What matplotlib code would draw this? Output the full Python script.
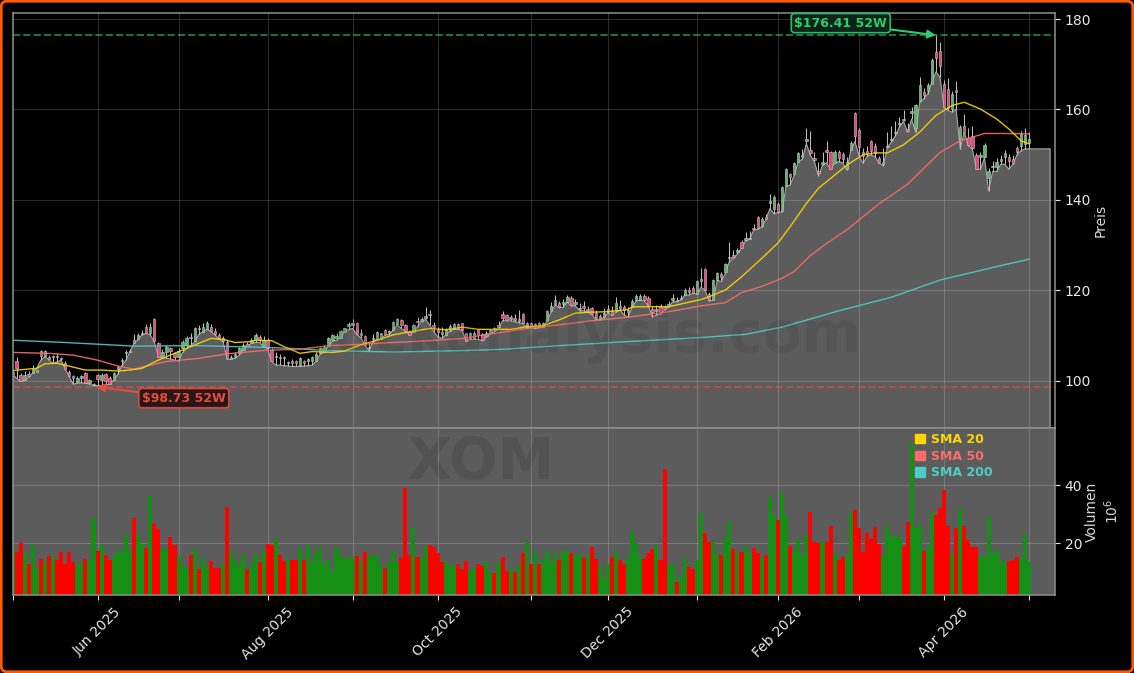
import matplotlib
matplotlib.use("Agg")
import matplotlib.pyplot as plt
from matplotlib.patches import FancyBboxPatch, Patch

W, H = 1134, 673

volumes = [18.5,16.8,19.9,16.8,12.6,19.3,11.4,14.5,13.7,15.6,15.3,14.2,17,12.6,17,13.4,12.5,13.3,14.5,14,
           28.6,17.4,19.3,16,14.2,15.6,17.2,17.4,22.9,17.6,28.6,23.1,19.7,18.2,36.2,26.8,25,18,18.3,22.2,
           19.4,15.6,12.2,11.7,15.7,18,11,14.9,11.9,13.7,11.4,11.4,13,32.5,17.4,14.2,12.5,15.9,10.9,12.5,
           15.9,13.4,17.4,19.7,19.4,21.5,15.7,13.7,14.6,14,14.3,18.2,14,19.4,13.4,16.5,19.1,12.6,14,10.1,
           18.4,15.9,14.4,15.1,15.3,15.4,13.3,17,15.7,15.1,15.9,12,11.3,13.4,17.4,13.6,14.9,39.1,16,25.5,
           15.1,15.3,18.8,19.4,18.5,16.7,13.3,13.3,12.2,12.2,12.6,11.2,13.8,10.5,11.4,12.6,12,13.6,10,9.6,
           13.2,15.3,10.3,11.2,10,12.7,16.5,20.5,12.6,17,12.6,14.2,17.4,13.4,16.5,14,17.4,17.4,16.5,15.9,
           15.9,14.9,15.9,18.5,14.6,12,7.6,12.8,15.1,16.9,14,12.8,14.9,23.9,20,15.1,14.6,16.7,17.8,18.8,
           14,45.5,12.1,12.6,6.4,8.5,14.9,11.7,10.9,14,30.4,23.6,20.4,20.2,16.2,15.7,21.7,27.7,17.8,16.8,
           16.8,18.9,16.7,18.2,16.4,14.9,16,35.9,29.7,28,37.7,29.7,18.8,17.4,21.4,16,23.1,30.8,20.4,20.1,
           20.2,20.2,26,16.2,14.3,15.3,16,30.3,31.4,25.2,16.9,23.3,21.4,25.6,19.7,15.6,26.2,22.5,22.8,22,
           19.1,27.4,54.1,25.2,26.2,17.3,18.7,30.4,29.8,32.1,38.2,25.7,16.5,25.2,31.6,26,21,18.7,18.7,15.6,
           15.3,29.1,16.5,17.6,13.9,13.5,13.9,14.1,15.3,14.8,23.1,13.4]

directions = ("GRRGRGGRGR" "GRRRRRGGRG" "GRGRRGGGGG" "RGGRGRRGGR" "RGGGRGRGGR"
              "RRGRGGGGRG" "GRGRRGRRGR" "RGRGGGGGGG" "GGGGGRGRGG" "GGRGGGRRRG"
              "RGGRRRRGGG" "RRRGGRRGGR" "GRRGRGRGRG" "RGGGGRGGRG" "GRGRRGGGRG"
              "RRGGGGRRRG" "RRGGRGGRRG" "GRRGGRGGRG" "RGGRRGRGGR" "GGRGGGGRRR"
              "GRRGRRGGRR" "RRRRRGGGGG" "RRGGGRGGRR" "RRGRGRRRRG" "GGGGGGRRRGGG")

body_top = [101.9,104.3,101.3,101.3,101.6,102.6,102.5,106.6,106.6,105.2,105.6,105.5,105.0,103.9,101.9,101.0,100.7,101.0,101.7,100.2,
            99.3,101.3,101.4,101.5,100.6,101.7,103.0,104.6,106.4,106.6,109.0,110.2,110.6,111.9,111.9,113.8,108.3,106.5,107.6,107.2,
            106.1,106.7,108.5,109.6,109.8,111.6,111.8,112.0,112.7,112.0,111.1,110.2,109.4,108.7,105.2,105.9,107.2,108.0,108.2,109.0,
            110.2,109.7,109.0,109.0,106.8,105.6,105.3,105.2,104.2,104.4,104.3,105.0,104.3,104.8,105.4,106.0,107.2,107.6,109.6,110.2,
            109.9,111.0,111.6,112.5,112.8,112.7,110.5,109.9,107.6,109.6,110.8,110.5,111.3,111.0,113.1,113.6,113.5,112.4,110.9,112.4,
            113.3,113.6,114.4,114.9,112.4,111.2,110.9,111.5,112.2,112.6,112.6,112.7,110.5,110.5,110.6,111.3,110.3,110.7,111.2,111.6,
            112.4,114.9,114.6,114.2,114.0,113.6,114.7,112.7,112.7,112.5,112.7,112.7,115.5,116.6,118.0,117.3,117.5,118.5,118.3,117.5,
            116.2,116.6,115.8,116.1,115.0,114.4,115.1,115.8,115.7,117.2,116.6,116.4,115.7,117.7,118.8,118.8,118.8,118.3,115.9,116.0,
            116.6,116.4,117.0,118.4,118.0,118.4,120.0,120.1,120.5,122.0,122.5,124.7,119.2,122.3,123.8,123.6,125.8,127.5,127.9,129.0,
            130.8,131.5,131.7,133.8,136.2,135.9,136.2,139.7,140.6,139.1,142.8,146.8,145.7,148.2,150.3,150.0,153.5,151.0,149.2,146.5,
            148.4,151.0,150.5,150.7,150.5,150.2,148.5,152.5,159.3,155.5,150.5,150.9,153.0,151.9,149.3,148.5,152.0,153.5,155.0,157.0,
            158.0,155.6,159.6,161.0,165.5,163.8,165.5,171.0,172.6,172.9,165.7,164.6,163.5,164.2,156.2,156.4,153.7,154.2,150.0,150.0,
            152.2,146.5,147.5,148.5,149.0,150.3,149.4,149.0,151.4,154.6,154.4,153.5]

body_bot = [101.5,102.8,99.9,100.2,101.0,101.8,101.9,105.6,105.5,104.8,105.4,105.3,104.8,102.7,101.1,100.6,99.8,100.7,99.6,99.6,
            99.0,100.5,100.2,99.9,99.3,100.3,102.6,104.3,106.1,106.3,108.4,109.2,110.3,110.6,110.7,108.9,105.4,105.4,106.3,106.6,
            105.2,105.2,107.2,108.0,109.4,108.9,111.5,110.9,111.4,111.0,110.4,109.3,108.9,105.0,104.9,105.2,106.1,106.9,107.7,108.3,
            109.0,109.0,107.7,107.2,104.3,105.2,105.0,105.0,103.9,104.0,104.0,103.4,104.0,104.5,104.3,104.5,106.1,106.5,107.7,109.0,
            109.6,109.6,110.9,112.2,112.4,110.3,110.2,108.0,107.2,109.2,109.2,109.2,110.4,110.6,111.3,112.6,112.3,111.1,110.2,110.9,
            113.0,113.3,114.0,114.5,111.9,110.9,110.4,110.2,111.1,111.5,111.5,111.3,108.9,109.6,109.6,110.2,109.1,110.0,110.5,111.2,
            112.0,114.0,113.5,113.6,113.5,113.2,112.9,111.9,111.9,111.6,112.0,112.0,113.3,115.5,117.0,116.3,117.0,117.5,116.8,117.0,
            115.8,116.2,115.4,114.9,114.0,113.8,114.2,115.3,114.6,115.5,116.2,115.6,115.2,116.4,117.9,118.0,117.9,116.8,115.2,115.4,
            115.2,115.9,116.6,118.0,117.7,118.1,119.0,119.6,119.5,119.2,122.1,120.1,117.8,118.0,122.3,123.0,124.0,127.1,127.5,128.5,
            129.4,131.2,131.4,133.5,133.8,134.3,135.8,139.4,137.9,137.4,137.6,143.1,145.1,145.7,148.5,149.5,153.0,150.4,148.8,146.0,
            148.0,150.6,146.8,148.2,149.2,149.1,146.8,151.0,154.2,151.8,149.8,150.2,150.9,150.3,148.2,148.0,151.7,153.2,154.7,156.7,
            157.7,155.2,159.2,156.0,161.8,163.1,164.1,165.7,171.4,169.6,160.5,160.4,160.1,163.9,153.5,154.7,152.2,151.5,146.9,149.6,
            149.4,144.8,147.2,147.4,148.7,149.6,148.7,148.1,150.5,151.9,152.4,152.5]

highs = [102.2,105.4,101.8,102.3,102.2,103.6,103.4,106.9,106.9,105.7,105.7,106.2,105.3,104.3,102.5,101.3,101.0,101.4,102.0,100.4,
         99.5,101.6,101.7,101.8,101.0,102.0,103.4,105.0,106.8,107.1,110.3,110.7,111.2,112.6,112.7,113.9,108.6,107.1,108.0,107.6,
         106.5,107.2,109.0,110.0,110.7,112.0,112.3,112.7,113.2,112.6,111.6,110.7,110.0,109.0,105.7,106.4,107.6,108.4,108.7,109.4,
         110.6,110.1,110.0,109.4,107.2,106.3,105.9,105.5,104.3,104.8,104.6,105.4,104.6,105.1,105.6,106.3,107.4,107.9,109.8,110.4,
         110.5,111.3,111.8,113.1,113.6,113.0,111.4,110.2,108.6,110.4,111.0,110.7,111.5,111.3,113.3,113.9,113.7,112.6,111.2,112.6,
         114.2,114.2,116.4,115.6,113.0,112.0,112.0,111.8,112.5,112.9,112.9,112.9,110.7,110.8,111.0,111.5,110.6,111.0,111.5,112.0,
         113.3,115.5,114.8,114.6,114.7,115.6,115.0,113.0,113.0,112.9,113.0,113.0,115.7,117.4,118.9,117.7,118.2,118.9,118.7,118.2,
         117.2,117.7,116.6,116.4,115.7,114.7,116.2,116.8,116.5,118.5,118.0,116.7,116.4,118.2,119.2,119.2,119.2,118.8,116.6,116.8,
         116.9,116.8,117.6,119.2,118.6,118.9,120.6,120.7,120.9,122.4,124.9,125.0,119.6,122.6,124.0,124.0,126.0,130.8,129.0,129.3,
         131.2,133.0,133.2,134.8,136.5,136.2,137.0,141.4,141.0,139.5,143.0,147.0,146.0,148.5,150.6,151.3,155.8,155.3,150.7,148.5,
         150.7,153.0,150.8,151.0,151.0,150.6,149.5,153.0,159.5,155.9,151.5,152.0,153.3,152.5,149.8,151.6,155.0,156.4,157.4,158.4,
         159.8,157.0,160.5,161.2,167.2,164.8,165.9,171.4,176.41,175.0,166.5,166.9,164.0,166.4,156.6,159.0,156.0,156.4,150.3,150.7,
         152.6,147.0,148.7,149.3,149.9,151.0,150.1,150.0,151.9,155.2,155.8,155.0]

lows = [101.5,100.6,99.9,100.2,100.8,101.8,102.8,104.6,105.4,104.6,103.9,104.2,104.6,102.7,101.0,99.3,99.5,99.6,99.5,99.3,
        98.9,99.0,99.0,99.1,99.3,100.2,101.5,103.4,104.6,106.5,108.3,109.2,110.2,110.5,110.2,108.7,105.4,105.2,105.0,104.9,
        104.6,104.4,106.3,107.2,107.8,108.7,110.3,110.9,111.4,110.9,110.2,109.2,108.7,104.8,104.8,105.0,105.7,107.0,107.7,108.3,
        108.5,108.5,107.6,107.1,104.3,103.5,103.5,103.4,103.3,103.2,103.2,103.3,103.3,103.4,103.5,104.4,106.0,106.5,107.7,108.8,
        109.0,109.6,110.9,111.4,111.6,110.3,109.6,108.0,106.7,108.7,109.2,109.2,110.2,110.2,111.3,112.4,111.6,111.1,110.2,110.9,
        112.0,113.1,113.6,112.4,110.9,109.8,109.4,110.2,111.1,111.4,111.4,111.3,108.9,109.2,109.2,109.2,108.9,109.8,110.3,110.9,
        111.6,113.3,113.3,113.3,113.1,112.9,112.7,111.8,111.8,111.6,111.8,112.0,113.3,115.3,116.8,116.2,116.3,117.4,116.6,116.6,
        115.5,115.5,115.2,114.8,113.6,113.5,114.0,115.0,114.6,115.2,115.7,114.6,114.1,116.3,117.7,117.9,117.7,116.6,114.2,114.6,
        114.8,115.7,116.4,117.5,117.5,117.9,119.0,119.0,119.4,119.2,120.7,120.1,117.7,117.9,122.2,122.0,123.8,126.4,127.1,128.1,
        129.3,131.0,131.3,133.4,133.5,134.1,135.7,138.1,137.0,137.2,137.4,143.1,143.3,145.5,148.5,149.0,152.5,149.9,148.5,145.3,
        147.7,148.2,146.8,148.2,148.5,148.2,146.6,151.0,152.9,149.9,148.1,149.7,149.9,149.6,148.1,147.6,151.6,152.8,154.2,156.2,
        157.4,155.0,157.9,155.0,161.6,162.4,163.5,166.1,168.3,167.2,160.5,159.8,159.4,160.1,151.3,155.0,152.0,151.3,146.8,146.8,
        149.4,142.0,146.3,146.3,147.9,147.9,146.8,147.9,150.0,150.9,151.3,151.3]

sma20_idx = [0,6,8,11,13,18,22,26,29,32,36,40,44,49,52,55,59,60,64,67,71,74,79,82,86,90,94,99,103,107,111,115,123,127,131,135,139,143,147,152,
             153,162,166,170,172,176,180,185,189,192,196,199,203,206,210,213,216,220,224,228,232,235,239,243,246,249,251]
sma20 = [102.3,102.8,103.8,103.9,103.5,102.4,102.4,102.2,102.4,102.8,104.6,106.1,107.6,109.4,109.2,108.5,108.7,109.0,108.9,107.6,106.1,106.5,106.3,106.6,108.0,109.0,110.2,111.0,111.6,111.3,111.9,111.4,111.4,112.0,112.2,113.5,115.0,115.2,115.3,115.8,
         116.4,116.4,117.2,118.0,118.6,120.1,123.0,127.1,130.5,134.1,139.2,142.6,145.5,147.7,150.0,150.4,150.4,152.2,155.0,158.7,160.9,161.6,160.1,157.9,155.7,153.1,152.4]

sma50_idx = [0,9,15,21,26,30,33,38,46,53,59,63,71,78,86,94,103,111,119,127,135,143,152,162,170,176,180,185,190,193,197,201,206,210,214,221,229,234,240,245,251]
sma50 = [106.3,106.1,105.7,104.6,103.3,102.6,103.3,104.3,105.0,106.0,106.5,106.8,107.0,107.8,108.1,108.5,108.9,109.4,110.5,111.6,112.4,113.3,114.1,115.3,116.6,117.3,119.5,120.9,122.7,124.2,127.7,130.4,133.4,136.3,139.2,143.5,150.5,153.1,154.7,154.7,154.6]

sma200_idx = [0,13,30,46,63,71,78,94,111,121,135,148,170,181,190,204,217,229,244,251]
sma200 = [109.0,108.5,107.7,107.8,107.4,107.1,106.7,106.4,106.7,107.0,107.8,108.5,109.6,110.3,111.9,115.5,118.5,122.3,125.5,126.9]

tick_positions = [0,21,41,63,84,105,128,147,169,189,209,230,251]
tick_labels = ["","Jun 2025","","Aug 2025","","Oct 2025","","Dec 2025","","Feb 2026","","Apr 2026",""]

high_52w = 176.41
low_52w = 98.73
high_idx = 228
low_idx = 21

GOLD, CORAL, TEAL = "#FFD700", "#FF6B6B", "#4ECDC4"
GREEN_LVL, RED_LVL = "#2ecc71", "#e74c3c"

fig = plt.figure(figsize=(W / 100, H / 100), dpi=100, facecolor="black")
def rect(l, t, r, b):
    return [l / W, 1 - b / H, (r - l) / W, (b - t) / H]
ax = fig.add_axes(rect(12.5, 12.5, 1055, 428), facecolor="black")
axv = fig.add_axes(rect(12.5, 428, 1055, 595), facecolor="#5c5c5c", sharex=ax)

fig.patches.append(FancyBboxPatch((1.2 / W, 1.2 / H), 1 - 2.4 / W, 1 - 2.4 / H,
                                  boxstyle="round,pad=0,rounding_size=0.005", transform=fig.transFigure,
                                  facecolor="none", edgecolor="#ff5a00", linewidth=2.0, mutation_aspect=W / H, zorder=10))

n = len(volumes)
xs = list(range(n))

fill_x = xs + [n + 4.2]
fill_y = lows + [lows[-1]]
ax.fill_between(fill_x, fill_y, 0, facecolor="#5c5c5c", edgecolor="#a8a8a8", linewidth=0.8, zorder=1)

for a in (ax, axv):
    a.grid(True, color="white", alpha=0.17, linewidth=0.8)
    for s in a.spines.values():
        s.set_color("#8f8f8f")
        s.set_linewidth(1.1)

up = [d == "G" for d in directions]
ax.vlines(xs, lows, highs, color="#bdbdbd", linewidth=0.75, zorder=2.2)
ax.bar(xs, [t - b for t, b in zip(body_top, body_bot)], bottom=body_bot, width=0.6,
       color=["#58b868" if u else "#f0407a" for u in up], edgecolor="#c8c8c8", linewidth=0.4, zorder=2.4)

ax.plot(sma200_idx, sma200, color=TEAL, lw=1.0, alpha=0.9, zorder=3)
ax.plot(sma50_idx, sma50, color=CORAL, lw=1.0, alpha=0.9, zorder=3)
ax.plot(sma20_idx, sma20, color=GOLD, lw=1.0, alpha=0.9, zorder=3)

ax.axhline(high_52w, color=GREEN_LVL, ls="--", lw=1.4, alpha=0.6, zorder=3)
ax.axhline(low_52w, color=RED_LVL, ls="--", lw=1.4, alpha=0.6, zorder=3)

ax.annotate(f"${high_52w:.2f} 52W", xy=(high_idx, high_52w), xytext=(204.5, 179.1), color=GREEN_LVL,
            fontsize=9, fontweight="bold", ha="center", va="center", parse_math=False, zorder=6,
            bbox=dict(boxstyle="round,pad=0.25", fc="#0c2a1a", ec=GREEN_LVL, lw=1.2, alpha=0.9),
            arrowprops=dict(arrowstyle="-|>", color=GREEN_LVL, lw=1.5, shrinkA=0, shrinkB=0, mutation_scale=12))
ax.annotate(f"${low_52w:.2f} 52W", xy=(low_idx - 0.3, low_52w), xytext=(42.3, 96.2), color=RED_LVL,
            fontsize=9, fontweight="bold", ha="center", va="center", parse_math=False, zorder=6,
            bbox=dict(boxstyle="round,pad=0.25", fc="#241010", ec=RED_LVL, lw=1.2, alpha=0.9),
            arrowprops=dict(arrowstyle="-|>", color=RED_LVL, lw=1.5, shrinkA=0, shrinkB=0, mutation_scale=12))

axv.bar(xs, volumes, width=1.0, color=["#168f16" if u else "#ff0000" for u in up], zorder=2.5)

fig.text(567 / W, 1 - 336 / H, "stockanalysis.com", color="black", alpha=0.08, fontsize=41, fontweight="bold",
         ha="center", va="center", zorder=1.2)
axv.text(482 / W, 1 - 463 / H, "XOM", color="black", alpha=0.1, fontsize=41, fontweight="bold",
         ha="center", va="center", transform=fig.transFigure, zorder=1.2, clip_on=False)

ax.set_xlim(0, 257.4)
ax.set_ylim(89.6, 181.44)
axv.set_ylim(2.07, 59.66)
ax.set_yticks([100, 120, 140, 160, 180])
axv.set_yticks([20, 40])
axv.set_xticks(tick_positions)
axv.set_xticklabels(tick_labels, rotation=45, ha="center", color="#e6e6e6", fontsize=10)
ax.tick_params(axis="x", which="both", bottom=False, labelbottom=False)
for a in (ax, axv):
    a.yaxis.tick_right()
    a.yaxis.set_label_position("right")
    a.tick_params(axis="y", colors="#e6e6e6", labelsize=10)
axv.tick_params(axis="x", colors="#e6e6e6")
ax.set_ylabel("Preis", color="#d8d8d8", fontsize=10, labelpad=2)
axv.set_ylabel("Volumen\n$10^{6}$", color="#d8d8d8", fontsize=10, labelpad=2)

handles = [Patch(color=c, label=l) for c, l in [(GOLD, "SMA 20"), (CORAL, "SMA 50"), (TEAL, "SMA 200")]]
leg = axv.legend(handles=handles, loc="upper left", bbox_to_anchor=(0.856, 1.03), frameon=False,
                 prop=dict(size=9, weight="bold"), handlelength=0.8, handleheight=0.8, handletextpad=0.5,
                 labelspacing=0.3, borderpad=0.3)
for t, c in zip(leg.get_texts(), [GOLD, CORAL, TEAL]):
    t.set_color(c)
leg.set_zorder(8)

fig.savefig("out.png", dpi=100, facecolor=fig.get_facecolor())
